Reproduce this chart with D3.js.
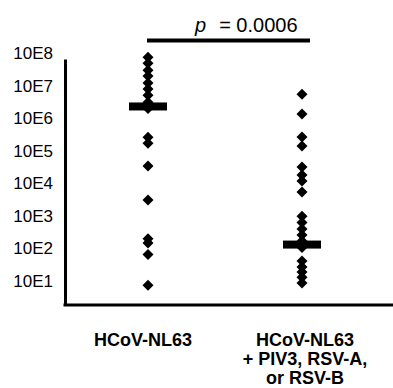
<!DOCTYPE html>
<html>
<head>
<meta charset="utf-8">
<script src="https://cdn.jsdelivr.net/npm/d3@7"></script>
<style>
  html, body { margin: 0; padding: 0; background: #fff; }
  svg { display: block; font-family: "Liberation Sans", Arial, sans-serif; }
</style>
</head>
<body>
<div id="chart"></div>
<script>
// groups on the x axis (each label may have several lines)
const groups = ["single", "coinfected"];
const groupLabels = [
  ["HCoV-NL63"],
  ["HCoV-NL63", "+ PIV3, RSV-A,", "or RSV-B"]
];

// viral loads (copies/ml)
const singleValues = [7.5e7, 4.9e7, 3.0e7, 2.0e7, 1.2e7, 7.9e6, 5.1e6, 3.1e6, 2.0e6,
  2.6e5, 1.7e5, 3.4e4, 3.1e3, 200, 147, 65, 7.5];
const coinfectedValues = [5.5e6, 1.35e6, 2.65e5, 1.4e5, 3.2e4, 1.8e4, 1.19e4, 5.4e3,
  970, 630, 400, 260, 170, 108, 41, 27, 19, 13, 8.7];
const medians = [2.3e6, 132];

const yTicks = [1e1, 1e2, 1e3, 1e4, 1e5, 1e6, 1e7, 1e8];
const pLabel = "0.0006";

const width = 393, height = 388;

const svg = d3.select("#chart").append("svg")
  .attr("width", width)
  .attr("height", height);

const x = d3.scalePoint()
  .domain(groups)
  .range([148, 302]);

// log axis, bottom of axis ~1.84, top ~6.6e7
const y = d3.scaleLog()
  .domain([1.84, 6.6e7])
  .range([305, 59]);

// y axis
const yAxis = svg.append("g")
  .attr("transform", "translate(65,0)")
  .call(d3.axisLeft(y)
    .tickValues(yTicks)
    .tickFormat(d => "10E" + Math.round(Math.log10(d)))
    .tickSize(0)
    .tickSizeOuter(0)
    .tickPadding(12));
yAxis.select(".domain").attr("stroke", "#000").attr("stroke-width", 3);
yAxis.selectAll("text")
  .attr("font-size", 17)
  .attr("fill", "#000")
  .attr("font-family", "Liberation Sans, Arial, sans-serif");

// x axis line
svg.append("line")
  .attr("x1", 63.5).attr("x2", width)
  .attr("y1", y(1.84)).attr("y2", y(1.84))
  .attr("stroke", "#000")
  .attr("stroke-width", 3);

// diamonds
const diamond = "M0,-5.5L5.5,0L0,5.5L-5.5,0Z";
const points = [];
singleValues.forEach(v => points.push({ g: groups[0], v }));
coinfectedValues.forEach(v => points.push({ g: groups[1], v }));

svg.append("g")
  .selectAll("path")
  .data(points)
  .join("path")
  .attr("d", diamond)
  .attr("transform", d => `translate(${x(d.g)},${y(d.v)})`)
  .attr("fill", "#000");

// median bars
svg.append("g")
  .selectAll("rect")
  .data(groups)
  .join("rect")
  .attr("x", d => x(d) - 19)
  .attr("width", 38)
  .attr("y", (d, i) => y(medians[i]) - 4)
  .attr("height", 8)
  .attr("fill", "#000");

// significance bracket
svg.append("line")
  .attr("x1", x(groups[0]) - 1)
  .attr("x2", x(groups[1]) + 8)
  .attr("y1", 40.5).attr("y2", 40.5)
  .attr("stroke", "#000")
  .attr("stroke-width", 4);

const pText = svg.append("text")
  .attr("x", 195)
  .attr("y", 31.5)
  .attr("font-size", 20)
  .attr("fill", "#000");
pText.append("tspan").attr("font-style", "italic").text("p");
pText.append("tspan").attr("dx", 13).text("= " + pLabel);

// group labels
svg.append("g")
  .selectAll("text")
  .data(groups)
  .join("text")
  .attr("text-anchor", "middle")
  .attr("font-size", 18)
  .attr("font-weight", "bold")
  .attr("fill", "#000")
  .each(function (d, i) {
    const t = d3.select(this);
    groupLabels[i].forEach((line, j) => {
      t.append("tspan")
        .attr("x", x(d) + (i === 0 ? -5 : 3))
        .attr("y", 346 + j * 19)
        .text(line);
    });
  });
</script>
</body>
</html>
